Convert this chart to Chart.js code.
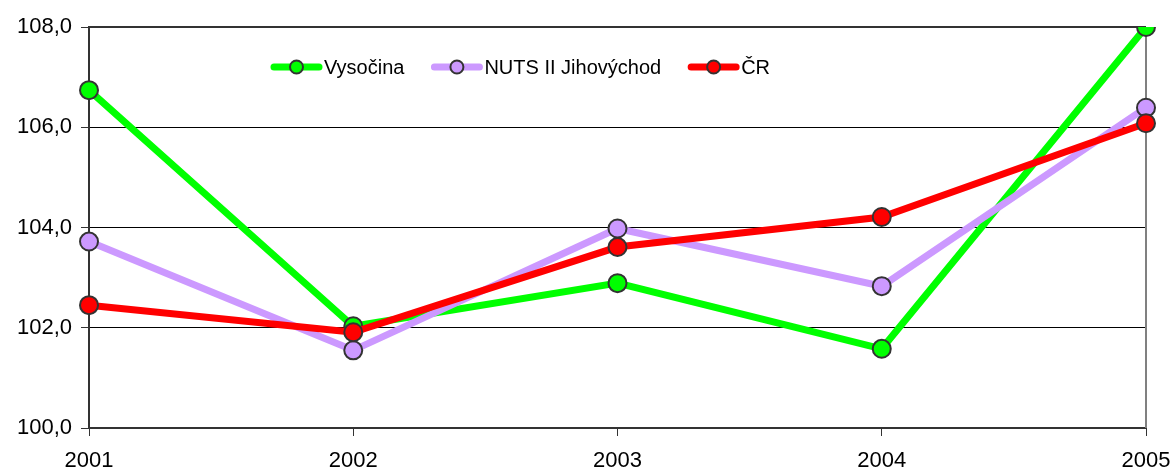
<!DOCTYPE html>
<html lang="cs">
<head>
    <meta charset="UTF-8">
    <title>Vysočina, NUTS II Jihovýchod, ČR</title>
    <script src="https://cdn.jsdelivr.net/npm/chart.js"></script>
    <style>
        html, body { margin: 0; padding: 0; background: #fff; }
        #wrap { width: 1173px; height: 471px; }
    </style>
</head>
<body>
<div id="wrap"><canvas id="chart"></canvas></div>

<script>
    // data
    const years = ['2001', '2002', '2003', '2004', '2005'];
    const vysocina = [106.74, 102.03, 102.89, 101.58, 108.0];
    const jihovychod = [103.72, 101.55, 103.98, 102.83, 106.39];
    const cr = [102.45, 101.91, 103.61, 104.21, 106.08];
    const seriesNames = ['Vysočina', 'NUTS II Jihovýchod', 'ČR'];
    const yTicks = [100, 102, 104, 106, 108];

    const FONT = 'Liberation Sans, Arial, sans-serif';

    function series(label, values, color, order) {
        return {
            label: label,
            data: values,
            borderColor: color,
            backgroundColor: color,
            borderWidth: 7,
            pointRadius: 9,
            pointHoverRadius: 9,
            pointBorderWidth: 2,
            pointBorderColor: '#333333',
            pointBackgroundColor: color,
            tension: 0,
            order: order
        };
    }

    // top and right frame of the plot area
    const frame = {
        id: 'frame',
        beforeDatasetsDraw(chart) {
            const a = chart.chartArea, c = chart.ctx;
            c.save();
            c.lineWidth = 2;
            c.strokeStyle = '#333333';
            c.beginPath();
            c.moveTo(a.left, a.top);
            c.lineTo(a.right, a.top);
            c.stroke();
            c.strokeStyle = '#808080';
            c.beginPath();
            c.moveTo(a.right, a.top);
            c.lineTo(a.right, a.bottom);
            c.stroke();
            c.restore();
        }
    };

    // legend with line + marker samples, as in the original
    const lineLegend = {
        id: 'lineLegend',
        afterDraw(chart) {
            const c = chart.ctx;
            let x = 271;
            const y = 67;
            c.save();
            c.font = '20px ' + FONT;
            c.textBaseline = 'middle';
            chart.data.datasets.forEach(ds => {
                c.strokeStyle = ds.borderColor;
                c.lineWidth = 7;
                c.lineCap = 'round';
                c.beginPath();
                c.moveTo(x + 3, y);
                c.lineTo(x + 48, y);
                c.stroke();
                c.beginPath();
                c.arc(x + 25.5, y, 6.5, 0, Math.PI * 2);
                c.fillStyle = ds.borderColor;
                c.fill();
                c.lineWidth = 2;
                c.strokeStyle = '#333333';
                c.stroke();
                c.fillStyle = '#000000';
                c.fillText(ds.label, x + 53, y + 1);
                x += 53 + c.measureText(ds.label).width + 27;
            });
            c.restore();
        }
    };

    new Chart(document.getElementById('chart'), {
        type: 'line',
        data: {
            labels: years,
            datasets: [
                series(seriesNames[0], vysocina, '#00ff00', 2),
                series(seriesNames[1], jihovychod, '#cc99ff', 1),
                series(seriesNames[2], cr, '#ff0000', 0)
            ]
        },
        options: {
            responsive: true,
            maintainAspectRatio: false,
            animation: false,
            layout: { padding: { left: 12, right: 27, top: 27, bottom: 0 } },
            plugins: {
                legend: { display: false },
                tooltip: { enabled: false }
            },
            scales: {
                x: {
                    offset: false,
                    afterFit(scale) {
                        scale.height = 43;
                        scale.paddingLeft = 0;
                        scale.paddingRight = 0;
                    },
                    grid: {
                        drawOnChartArea: false,
                        drawTicks: true,
                        tickLength: 8,
                        color: '#333333',
                        lineWidth: 1
                    },
                    border: { display: true, color: '#333333', width: 2 },
                    ticks: {
                        color: '#000000',
                        padding: 12,
                        maxRotation: 0,
                        autoSkip: false,
                        font: { family: FONT, size: 22 }
                    }
                },
                y: {
                    min: yTicks[0],
                    max: yTicks[yTicks.length - 1],
                    afterBuildTicks(scale) {
                        scale.ticks = yTicks.map(v => ({ value: v }));
                    },
                    afterFit(scale) {
                        scale.width = 77;
                    },
                    grid: {
                        color: '#000000',
                        lineWidth: 1,
                        drawTicks: true,
                        tickLength: 8,
                        tickColor: '#333333'
                    },
                    border: { display: true, color: '#333333', width: 2 },
                    ticks: {
                        color: '#000000',
                        padding: 9,
                        font: { family: FONT, size: 22 },
                        callback: v => v.toFixed(1).replace('.', ',')
                    }
                }
            }
        },
        plugins: [frame, lineLegend]
    });
</script>
</body>
</html>
